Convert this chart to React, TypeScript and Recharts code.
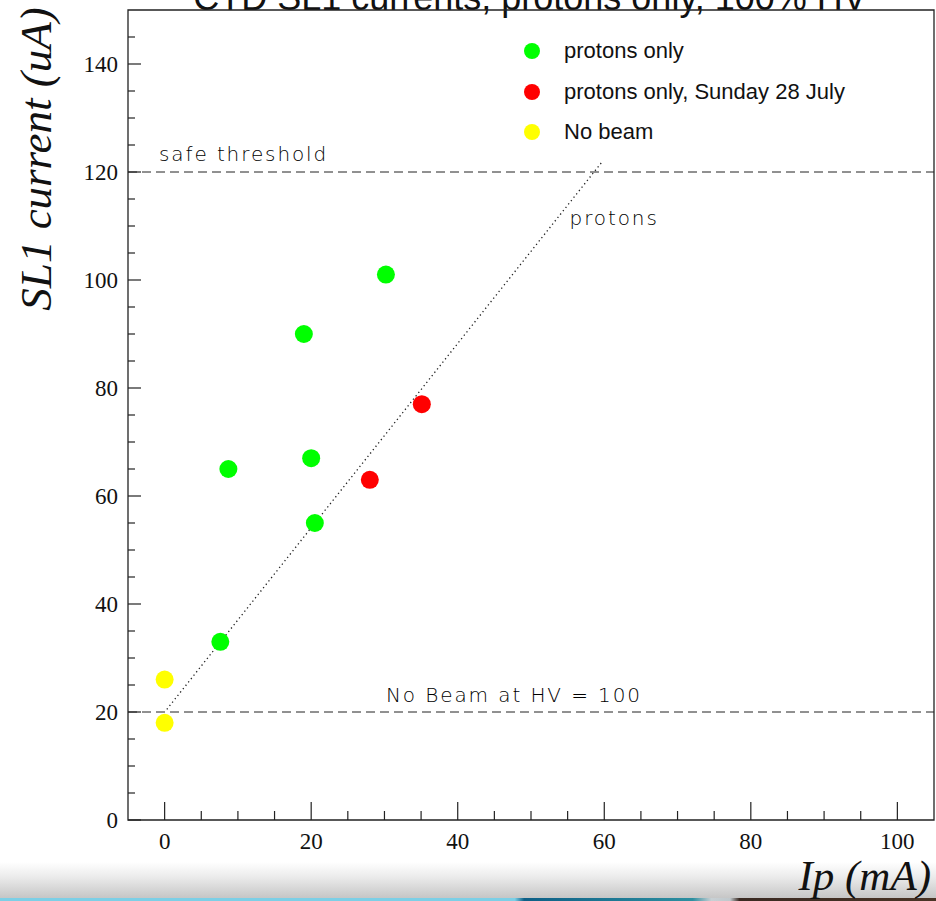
import React from "react";
import {
  ScatterChart,
  Scatter,
  XAxis,
  YAxis,
  ReferenceLine,
  ReferenceArea,
  ReferenceDot,
  Legend,
} from "recharts";

// measured points
const greenX = [7.6, 8.7, 19.0, 20.0, 20.5, 30.2];
const greenY = [33, 65, 90, 67, 55, 101];
const redX = [28.0, 35.1];
const redY = [63, 77];
const yellowX = [0, 0];
const yellowY = [26, 18];

const seriesNames = ["protons only", "protons only, Sunday 28 July", "No beam"];

const xTicks = [0, 5, 10, 15, 20, 25, 30, 35, 40, 45, 50, 55, 60, 65, 70, 75, 80, 85, 90, 95, 100];
const xLabels = [0, 20, 40, 60, 80, 100];
const yTicks = [
  0, 5, 10, 15, 20, 25, 30, 35, 40, 45, 50, 55, 60, 65, 70, 75, 80, 85, 90, 95, 100, 105, 110,
  115, 120, 125, 130, 135, 140, 145,
];
const yLabels = [0, 20, 40, 60, 80, 100, 120, 140];

const safeLevel = 120;
const noBeamLevel = 20;
const fitLine = [
  { x: 0.3, y: 20.5 },
  { x: 59.6, y: 121.7 },
];

const toPoints = (xs: number[], ys: number[]) => xs.map((x, i) => ({ x, y: ys[i] }));

const green = toPoints(greenX, greenY);
const red = toPoints(redX, redY);
const yellow = toPoints(yellowX, yellowY);

const SERIF = "'Liberation Serif', 'Times New Roman', serif";
const SANS = "'Liberation Sans', Arial, sans-serif";
const THIN = "'DejaVu Sans', sans-serif";

const XTick = (props: any) => {
  const { x, y, payload } = props;
  const major = xLabels.includes(payload.value);
  return (
    <g>
      <line x1={x} x2={x} y1={y} y2={y - (major ? 18 : 9)} stroke="#222" strokeWidth={1.2} />
      {major && (
        <text x={x} y={y + 29} textAnchor="middle" fontFamily={SERIF} fontSize={23} fill="#111">
          {payload.value}
        </text>
      )}
    </g>
  );
};

const YTick = (props: any) => {
  const { x, y, payload } = props;
  const major = yLabels.includes(payload.value);
  return (
    <g>
      <line x1={x} x2={x + (major ? 13 : 7)} y1={y} y2={y} stroke="#222" strokeWidth={1.2} />
      {major && (
        <text x={x - 10} y={y + 8} textAnchor="end" fontFamily={SERIF} fontSize={23} fill="#111">
          {payload.value}
        </text>
      )}
    </g>
  );
};

const thinText = (value: string, dx: number, dy: number) => (props: any) => {
  const vb = props.viewBox;
  return (
    <text
      x={vb.x + dx}
      y={vb.y + dy}
      fontFamily={THIN}
      fontWeight={200}
      fontSize={20}
      letterSpacing={1.9}
      fill="#000"
    >
      {value}
    </text>
  );
};

const LegendBox = (props: any) => {
  const items = [...(props.payload || [])].sort(
    (a: any, b: any) => seriesNames.indexOf(a.value) - seriesNames.indexOf(b.value)
  );
  return (
    <div style={{ fontFamily: SANS, fontSize: 22, color: "#111" }}>
      {items.map((p: any) => (
        <div key={p.value} style={{ display: "flex", alignItems: "center", height: 40.5 }}>
          <svg width={24} height={24} style={{ marginRight: 20 }}>
            <circle cx={12} cy={12} r={8} fill={p.color} />
          </svg>
          <span>{p.value}</span>
        </div>
      ))}
    </div>
  );
};

export default function App() {
  return (
    <div style={{ position: "absolute", left: 0, top: 0, width: 936, height: 901, background: "#fff" }}>
      <div
        style={{
          position: "absolute",
          left: 0,
          top: 862,
          width: 936,
          height: 36,
          background: "linear-gradient(#ffffff, #ececec 40%, #c6c6c6)",
        }}
      />
      <div
        style={{
          position: "absolute",
          left: 0,
          top: 898,
          width: 936,
          height: 3,
          background:
            "linear-gradient(90deg, #7ccfe6 0%, #7ccfe6 55%, #0d5f86 56%, #2d8fa0 74%, #c8d0d4 76%, #c0c8cc 78%, #3a2a22 79%, #4a3426 100%)",
        }}
      />
      <div style={{ position: "absolute", left: 0, top: 0 }}>
        <ScatterChart width={936} height={901} margin={{ top: 10, right: 2, bottom: 0, left: 0 }}>
          <XAxis
            type="number"
            dataKey="x"
            domain={[-5, 105]}
            ticks={xTicks}
            interval={0}
            allowDataOverflow
            height={81}
            tickSize={0}
            tickMargin={0}
            axisLine={false}
            tick={<XTick />}
            label={{
              content: () => (
                <text
                  x={931}
                  y={890}
                  textAnchor="end"
                  fontFamily={SERIF}
                  fontStyle="italic"
                  fontSize={43}
                  fill="#111"
                >
                  Ip (mA)
                </text>
              ),
            }}
          />
          <YAxis
            type="number"
            dataKey="y"
            domain={[0, 150]}
            ticks={yTicks}
            interval={0}
            allowDataOverflow
            width={128}
            tickSize={0}
            tickMargin={0}
            axisLine={false}
            tick={<YTick />}
            label={{
              content: () => (
                <text
                  x={0}
                  y={0}
                  transform="translate(51,159) rotate(-90)"
                  textAnchor="middle"
                  fontFamily={SERIF}
                  fontStyle="italic"
                  fontSize={45}
                  fill="#111"
                >
                  SL1 current (uA)
                </text>
              ),
            }}
          />
          <ReferenceArea x1={-5} x2={105} y1={0} y2={150} fill="none" stroke="#222" strokeWidth={1.3} />
          <ReferenceLine
            y={safeLevel}
            stroke="#222"
            strokeDasharray="9 5"
            label={{ content: thinText("safe threshold", 31, -11) }}
          />
          <ReferenceLine
            y={noBeamLevel}
            stroke="#222"
            strokeDasharray="9 5"
            label={{ content: thinText("No Beam at HV = 100", 258, -10) }}
          />
          <ReferenceLine segment={fitLine} stroke="#222" strokeWidth={1.3} strokeDasharray="1.3 3" />
          <ReferenceDot
            x={55.4}
            y={110}
            r={1}
            fill="none"
            stroke="none"
            label={{ content: thinText("protons", 0, 0) }}
          />
          <Scatter name={seriesNames[0]} data={green} fill="#00ff00" isAnimationActive={false} shape={(p: any) => <circle cx={p.cx} cy={p.cy} r={9} fill="#00ff00" />} />
          <Scatter name={seriesNames[1]} data={red} fill="#ff0000" isAnimationActive={false} shape={(p: any) => <circle cx={p.cx} cy={p.cy} r={9} fill="#ff0000" />} />
          <Scatter name={seriesNames[2]} data={yellow} fill="#ffff00" isAnimationActive={false} shape={(p: any) => <circle cx={p.cx} cy={p.cy} r={9} fill="#ffff00" />} />
          <Legend
            layout="horizontal"
            verticalAlign="middle"
            align="center"
            content={<LegendBox />}
            wrapperStyle={{ top: 31, left: 520, width: 380, height: 125 }}
          />
          <text x={530} y={10} textAnchor="middle" fontFamily={SANS} fontSize={36} fill="#111">
            CTD SL1 currents, protons only, 100% HV
          </text>
        </ScatterChart>
      </div>
    </div>
  );
}
